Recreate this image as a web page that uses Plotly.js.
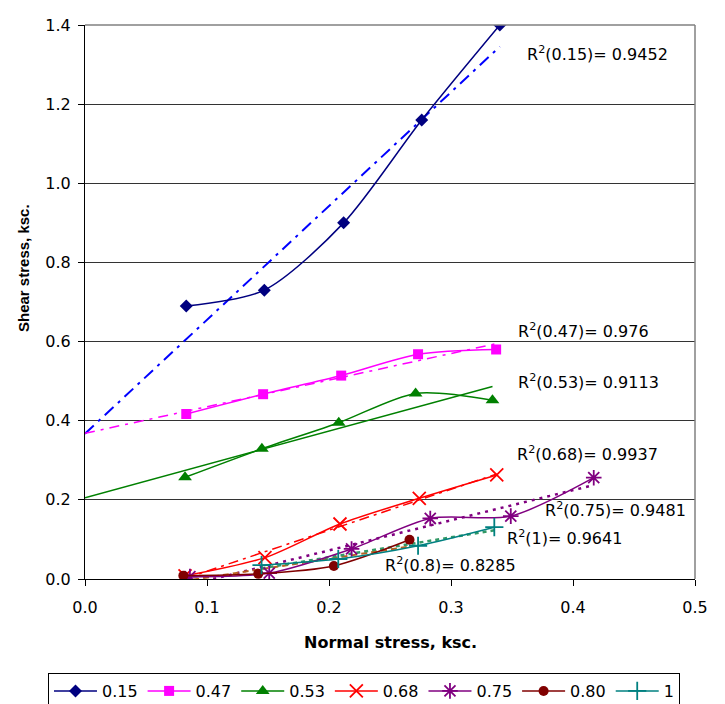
<!DOCTYPE html>
<html>
<head>
<meta charset="utf-8">
<script src="https://cdn.plot.ly/plotly-3.0.1.min.js"></script>
<style>
  html, body { margin: 0; padding: 0; background: #fff; }
  #chart { width: 725px; height: 704px; }
</style>
</head>
<body>
<div id="chart"></div>
<script>
// ---- data ----
const seriesNames = ['0.15', '0.47', '0.53', '0.68', '0.75', '0.80', '1'];
const x015 = [0.083, 0.147, 0.212, 0.276, 0.340];
const y015 = [0.69, 0.73, 0.90, 1.16, 1.40];
const x047 = [0.083, 0.146, 0.210, 0.273, 0.337];
const y047 = [0.417, 0.467, 0.514, 0.568, 0.580];
const x053 = [0.082, 0.145, 0.208, 0.271, 0.334];
const y053 = [0.257, 0.329, 0.395, 0.469, 0.452];
const x068 = [0.082, 0.1475, 0.209, 0.274, 0.3375];
const y068 = [0.008, 0.054, 0.139, 0.204, 0.263];
const x075 = [0.086, 0.151, 0.2185, 0.283, 0.349, 0.417];
const y075 = [0.006, 0.015, 0.076, 0.153, 0.159, 0.256];
const x080 = [0.0806, 0.142, 0.204, 0.266];
const y080 = [0.0085, 0.013, 0.033, 0.099];
const x100 = [0.1447, 0.2076, 0.273, 0.3355];
const y100 = [0.035, 0.0505, 0.084, 0.131];
// trendline starts at x = 0 (backward forecast) for the first three series
const trendFromZero = [true, true, true, false, false, false, false];
const r2Labels = ['0.15', '0.47', '0.53', '0.68', '0.75', '0.8', '1'];
const r2Values = ['0.9452', '0.976', '0.9113', '0.9937', '0.9481', '0.8285', '0.9641'];
const xTicks = [0, 0.1, 0.2, 0.3, 0.4, 0.5];
const yTicks = [0, 0.2, 0.4, 0.6, 0.8, 1.0, 1.2, 1.4];

const xs = [x015, x047, x053, x068, x075, x080, x100];
const ys = [y015, y047, y053, y068, y075, y080, y100];

const colors = ['#000080', '#FF00FF', '#008000', '#FF0000', '#800080', '#800000', '#008080'];
const symbols = ['diamond', 'square', 'triangle-up', 'x-thin-open', 'asterisk-open', 'circle', 'cross-thin-open'];
const msizes = [10, 10, 12, 13, 13, 10, 13];
const trendColors = ['#0000FF', '#FF00FF', '#008000', '#FF0000', '#800080', '#B8601E', '#339966'];
const trendDash = ['12px,6px,3px,6px', '10px,6px,3px,6px', 'solid', '10px,5px,3px,5px', '3px,5px', '6px,4px', '4px,4px'];
const trendWidth = [2, 1.5, 1.5, 1.5, 2.5, 2, 2.5];

function linfit(x, y) {
  const n = x.length;
  const mx = x.reduce((a, b) => a + b, 0) / n;
  const my = y.reduce((a, b) => a + b, 0) / n;
  let sxy = 0, sxx = 0;
  for (let i = 0; i < n; i++) { sxy += (x[i] - mx) * (y[i] - my); sxx += (x[i] - mx) * (x[i] - mx); }
  const b = sxy / sxx;
  return { a: my - b * mx, b: b };
}

const FONT = 'DejaVu Sans';
const traces = [];
// trendlines first (drawn below data)
for (let i = 0; i < xs.length; i++) {
  const f = linfit(xs[i], ys[i]);
  const x0 = trendFromZero[i] ? 0 : Math.min(...xs[i]);
  const x1 = Math.max(...xs[i]);
  traces.push({
    x: [x0, x1], y: [f.a + f.b * x0, f.a + f.b * x1],
    type: 'scatter', mode: 'lines', showlegend: false, hoverinfo: 'skip',
    line: { color: trendColors[i], width: trendWidth[i], dash: trendDash[i] }
  });
}
for (let i = 0; i < xs.length; i++) {
  const open = symbols[i].indexOf('open') >= 0;
  traces.push({
    x: xs[i], y: ys[i], name: seriesNames[i],
    type: 'scatter', mode: 'lines+markers',
    line: { color: colors[i], width: 1.5, shape: 'spline', smoothing: 0.8 },
    marker: {
      symbol: symbols[i], size: msizes[i], color: colors[i],
      line: { color: colors[i], width: open ? 1.8 : 0 }
    }
  });
}

const annPos = [
  [0.361, 1.328], [0.353, 0.629], [0.353, 0.4985], [0.3525, 0.318],
  [0.3755, 0.1745], [0.244, 0.0356], [0.344, 0.106]
];
const annotations = r2Labels.map((lab, i) => ({
  x: annPos[i][0], y: annPos[i][1], xref: 'x', yref: 'y',
  xanchor: 'left', yanchor: 'middle', showarrow: false,
  text: 'R<sup>2</sup>(' + lab + ')= ' + r2Values[i],
  font: { family: FONT, size: 16, color: '#000' }
}));
annotations.push({
  x: 0.5, y: -0.1153, xref: 'paper', yref: 'paper', showarrow: false,
  xanchor: 'center', yanchor: 'middle',
  text: '<b>Normal stress, ksc.</b>',
  font: { family: FONT, size: 16, color: '#000' }
});
annotations.push({
  x: -0.102, y: 0.561, xref: 'paper', yref: 'paper', showarrow: false,
  xanchor: 'center', yanchor: 'middle', textangle: -90,
  text: '<b>Shear stress, ksc.</b>',
  font: { family: 'Liberation Sans', size: 15, color: '#000' }
});

const layout = {
  width: 725, height: 704,
  margin: { l: 85, r: 30, t: 25, b: 125, autoexpand: false },
  paper_bgcolor: '#fff', plot_bgcolor: '#fff',
  showlegend: true,
  xaxis: {
    range: [0, 0.5], tickvals: xTicks, ticktext: xTicks.map(v => v.toFixed(1)),
    showgrid: false, zeroline: false, showline: true, linecolor: '#000', linewidth: 1,
    ticks: 'outside', ticklen: 6, tickcolor: '#000', ticklabelstandoff: 8,
    tickfont: { family: FONT, size: 16, color: '#000' }, automargin: false
  },
  yaxis: {
    range: [0, 1.4], tickvals: yTicks, ticktext: yTicks.map(v => v.toFixed(1)),
    showgrid: true, gridcolor: '#333', gridwidth: 1, zeroline: false,
    showline: true, linecolor: '#000', linewidth: 1,
    ticks: 'outside', ticklen: 6, tickcolor: '#000', ticklabelstandoff: 4,
    tickfont: { family: FONT, size: 16, color: '#000' }, automargin: false
  },
  shapes: [
    { type: 'line', xref: 'paper', yref: 'paper', x0: 0, x1: 1, y0: 1, y1: 1, line: { color: '#808080', width: 1.5 } },
    { type: 'line', xref: 'paper', yref: 'paper', x0: 1, x1: 1, y0: 0, y1: 1, line: { color: '#808080', width: 1.5 } }
  ],
  legend: {
    orientation: 'h', x: -0.0607, xanchor: 'left', y: -0.1697, yanchor: 'top',
    bgcolor: '#fff', bordercolor: '#000', borderwidth: 1,
    itemwidth: 43, font: { family: FONT, size: 16, color: '#000' }
  },
  annotations: annotations
};

Plotly.newPlot('chart', traces, layout, { displayModeBar: false, staticPlot: true });
</script>
</body>
</html>
